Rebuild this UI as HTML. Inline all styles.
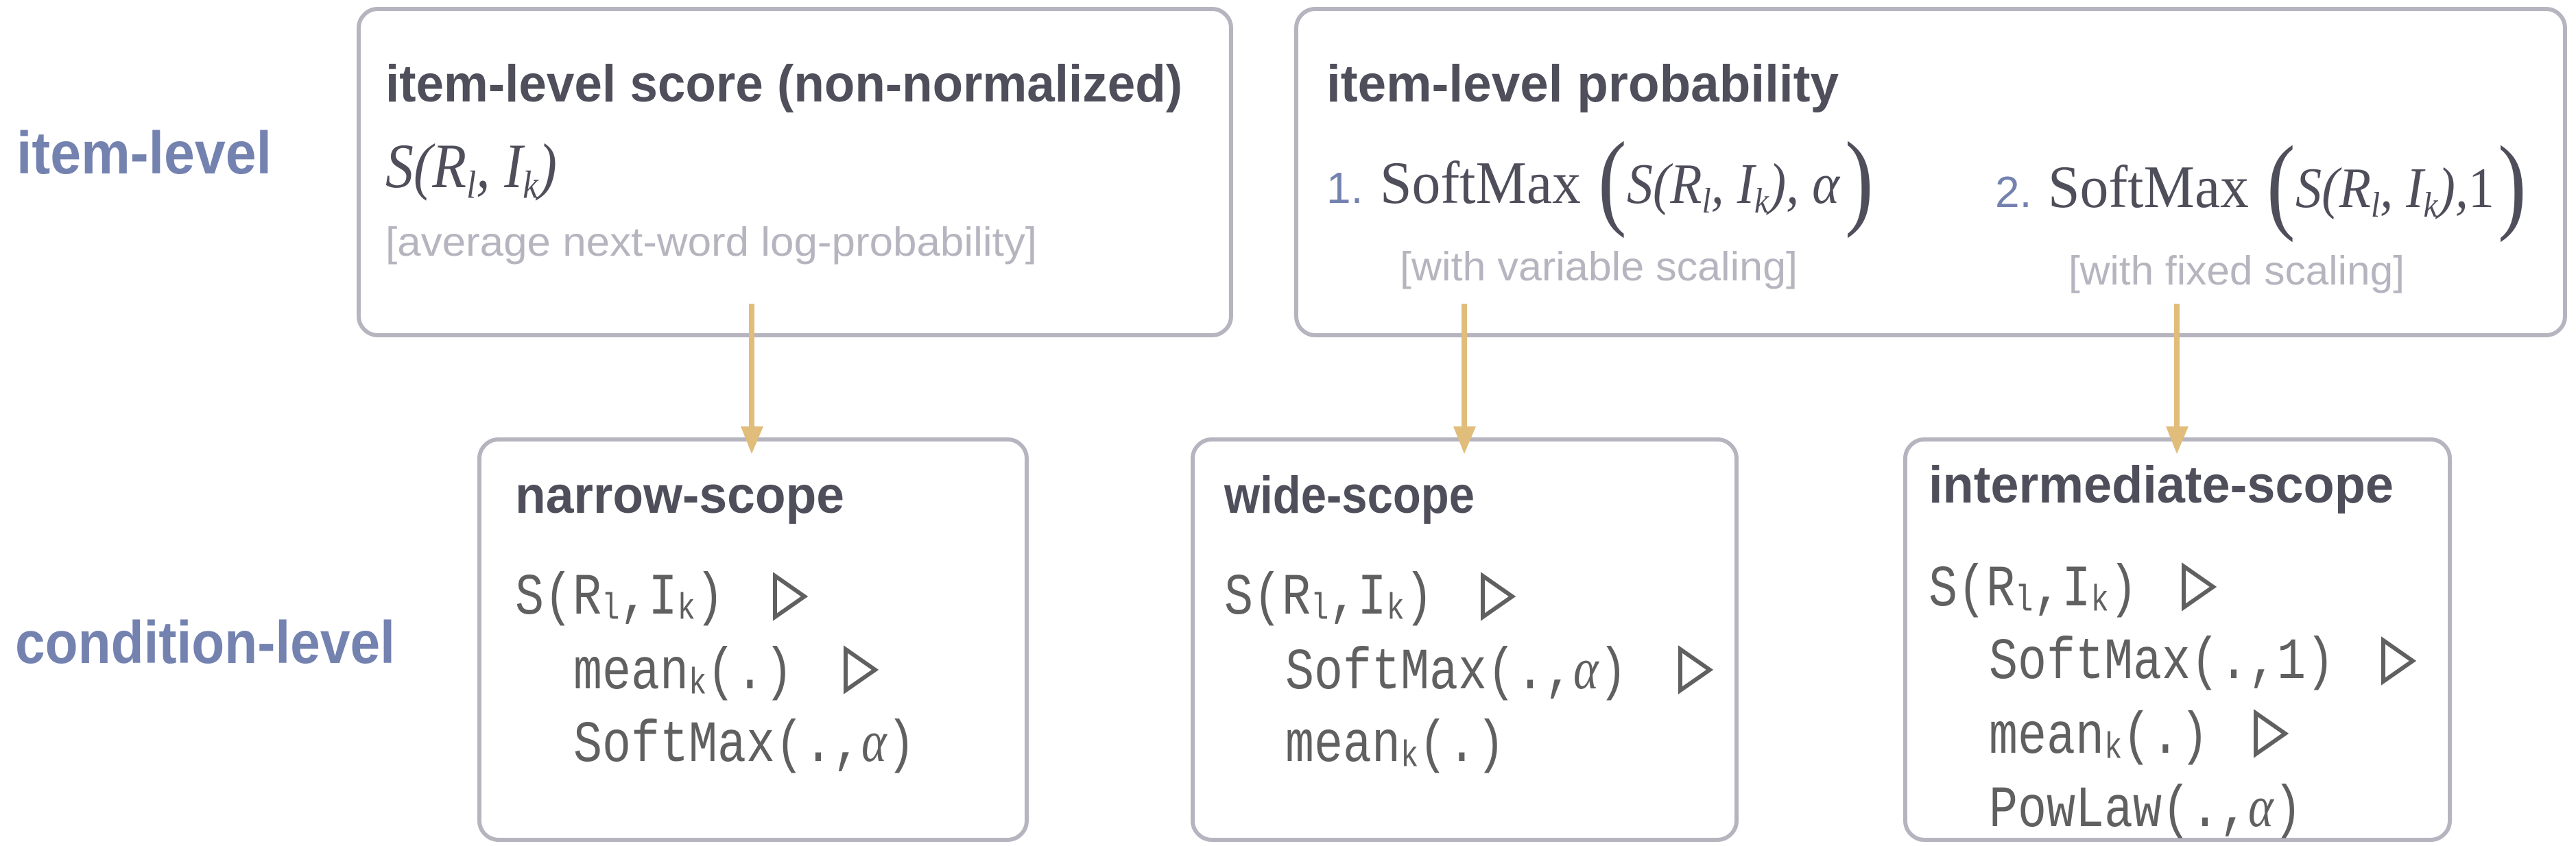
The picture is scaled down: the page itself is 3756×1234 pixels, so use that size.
<!DOCTYPE html>
<html><head><meta charset="utf-8"><style>
html,body{margin:0;padding:0;background:#fff;}
svg{display:block;}
.t{font-family:"Liberation Sans",sans-serif;font-weight:bold;fill:#4f4e5b;font-size:66px;}
.lab{font-family:"Liberation Sans",sans-serif;font-weight:bold;fill:#7482b0;font-size:76px;}
.g{font-family:"Liberation Sans",sans-serif;fill:#b6b5bf;font-size:54px;}
.m{font-family:"Liberation Serif",serif;fill:#4f4e5b;font-size:80px;}
.mi{font-family:"Liberation Serif",serif;font-style:italic;fill:#4f4e5b;font-size:84px;}
.mo{font-family:"Liberation Mono",monospace;fill:#606060;font-size:70px;}
.box{fill:#fff;stroke:#b5b4bf;stroke-width:6;}
.tri{fill:none;stroke:#606060;stroke-width:6;stroke-linejoin:miter;}
.ar{stroke:#e0bd7a;stroke-width:8;}
</style></head><body>
<svg width="3756" height="1234" viewBox="0 0 3756 1234" xmlns="http://www.w3.org/2000/svg">
<!-- side labels -->
<text class="lab" transform="translate(24 253) scale(1 1.15)" textLength="372" lengthAdjust="spacingAndGlyphs">item-level</text>
<text class="lab" transform="translate(22 967) scale(1 1.15)" textLength="554" lengthAdjust="spacingAndGlyphs">condition-level</text>

<!-- top boxes -->
<rect class="box" x="523" y="13" width="1272" height="476" rx="28"/>
<rect class="box" x="1890" y="13" width="1850" height="476" rx="28"/>

<text class="t" transform="translate(562 148) scale(1 1.15)" textLength="1162" lengthAdjust="spacingAndGlyphs">item-level score (non-normalized)</text>
<text class="mi" transform="translate(562 273) scale(1 1.1)" textLength="250" lengthAdjust="spacingAndGlyphs">S(R<tspan font-size="52" dy="14">l</tspan><tspan dy="-14">, I</tspan><tspan font-size="52" dy="14">k</tspan><tspan dy="-14">)</tspan></text>
<text class="g" transform="translate(562 373) scale(1 1.1)" textLength="950" lengthAdjust="spacingAndGlyphs">[average next-word log-probability]</text>

<text class="t" transform="translate(1934 148) scale(1 1.15)" textLength="747" lengthAdjust="spacingAndGlyphs">item-level probability</text>
<!-- formula 1 -->
<text class="lab" x="1934" y="296" style="font-weight:normal;font-size:64px">1.</text>
<text class="m" transform="translate(2012 296) scale(1 1.1)" textLength="293" lengthAdjust="spacingAndGlyphs">SoftMax</text>
<text class="m" transform="translate(2330 314) scale(1 1.25)" style="font-size:125px">(</text>
<text class="mi" x="2372" y="296" textLength="310" lengthAdjust="spacingAndGlyphs">S(R<tspan font-size="52" dy="14">l</tspan><tspan dy="-14">, I</tspan><tspan font-size="52" dy="14">k</tspan><tspan dy="-14">), α</tspan></text>
<text class="m" transform="translate(2690 314) scale(1 1.25)" style="font-size:125px">)</text>
<text class="g" transform="translate(2041 409) scale(1 1.1)" textLength="580" lengthAdjust="spacingAndGlyphs">[with variable scaling]</text>
<!-- formula 2 -->
<text class="lab" x="2909" y="302" style="font-weight:normal;font-size:64px">2.</text>
<text class="m" transform="translate(2986 302) scale(1 1.1)" textLength="293" lengthAdjust="spacingAndGlyphs">SoftMax</text>
<text class="m" transform="translate(3305 320) scale(1 1.25)" style="font-size:125px">(</text>
<text class="mi" x="3347" y="302" textLength="290" lengthAdjust="spacingAndGlyphs">S(R<tspan font-size="52" dy="14">l</tspan><tspan dy="-14">, I</tspan><tspan font-size="52" dy="14">k</tspan><tspan dy="-14">),</tspan><tspan style="font-style:normal">1</tspan></text>
<text class="m" transform="translate(3642 320) scale(1 1.25)" style="font-size:125px">)</text>
<text class="g" transform="translate(3016 415) scale(1 1.1)" textLength="490" lengthAdjust="spacingAndGlyphs">[with fixed scaling]</text>

<!-- arrows -->
<line class="ar" x1="1096" y1="443" x2="1096" y2="630"/>
<line class="ar" x1="2135" y1="443" x2="2135" y2="630"/>
<line class="ar" x1="3174" y1="443" x2="3174" y2="630"/>

<!-- bottom boxes -->
<rect class="box" x="699" y="641" width="798" height="584" rx="28"/>
<rect class="box" x="1739" y="641" width="793" height="584" rx="28"/>
<rect class="box" x="2778" y="641" width="794" height="584" rx="28"/>
<polygon points="1080,622 1113,622 1096,662" fill="#e0bd7a"/>
<polygon points="2119,622 2152,622 2135,662" fill="#e0bd7a"/>
<polygon points="3158,622 3191,622 3174,662" fill="#e0bd7a"/>

<text class="t" transform="translate(751 748) scale(1 1.15)" textLength="480" lengthAdjust="spacingAndGlyphs">narrow-scope</text>
<text class="mo" transform="translate(751 895) scale(1 1.22)">S(R<tspan font-size="44" dy="6">l</tspan><tspan dy="-6">,I</tspan><tspan font-size="44" dy="6">k</tspan><tspan dy="-6">)</tspan></text>
<polygon class="tri" points="1130,840 1173,870 1130,900"/>
<text class="mo" transform="translate(836 1004) scale(1 1.22)">mean<tspan font-size="44" dy="6">k</tspan><tspan dy="-6">(.)</tspan></text>
<polygon class="tri" points="1233,947 1276,977 1233,1007"/>
<text class="mo" transform="translate(836 1110) scale(1 1.22)">SoftMax(.,<tspan font-family="Liberation Serif" font-style="italic">α</tspan>)</text>

<text class="t" transform="translate(1785 748) scale(1 1.15)" textLength="365" lengthAdjust="spacingAndGlyphs">wide-scope</text>
<text class="mo" transform="translate(1785 895) scale(1 1.22)">S(R<tspan font-size="44" dy="6">l</tspan><tspan dy="-6">,I</tspan><tspan font-size="44" dy="6">k</tspan><tspan dy="-6">)</tspan></text>
<polygon class="tri" points="2162,840 2205,870 2162,900"/>
<text class="mo" transform="translate(1874 1004) scale(1 1.22)">SoftMax(.,<tspan font-family="Liberation Serif" font-style="italic">α</tspan>)</text>
<polygon class="tri" points="2450,947 2493,977 2450,1007"/>
<text class="mo" transform="translate(1874 1110) scale(1 1.22)">mean<tspan font-size="44" dy="6">k</tspan><tspan dy="-6">(.)</tspan></text>

<text class="t" transform="translate(2812 733) scale(1 1.15)" textLength="678" lengthAdjust="spacingAndGlyphs">intermediate-scope</text>
<text class="mo" transform="translate(2812 883) scale(1 1.22)">S(R<tspan font-size="44" dy="6">l</tspan><tspan dy="-6">,I</tspan><tspan font-size="44" dy="6">k</tspan><tspan dy="-6">)</tspan></text>
<polygon class="tri" points="3184,826 3227,856 3184,886"/>
<text class="mo" transform="translate(2900 989) scale(1 1.22)">SoftMax(.,1)</text>
<polygon class="tri" points="3475,934 3518,964 3475,994"/>
<text class="mo" transform="translate(2900 1098) scale(1 1.22)">mean<tspan font-size="44" dy="6">k</tspan><tspan dy="-6">(.)</tspan></text>
<polygon class="tri" points="3289,1040 3332,1070 3289,1100"/>
<text class="mo" transform="translate(2900 1205) scale(1 1.22)">PowLaw(.,<tspan font-family="Liberation Serif" font-style="italic">α</tspan>)</text>
</svg>
</body></html>
